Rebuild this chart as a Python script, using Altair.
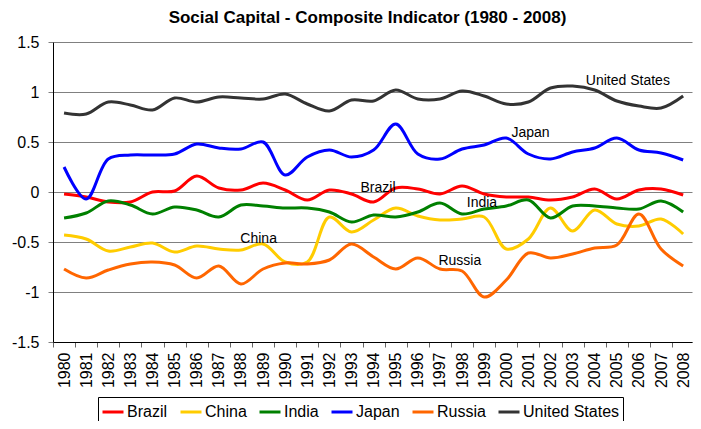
import altair as alt
import pandas as pd

years = list(range(1980, 2009))

countries = ["Brazil", "China", "India", "Japan", "Russia", "United States"]
colors = ["#FF0000", "#FFCC00", "#008000", "#0000FF", "#FF6600", "#333333"]

brazil = [-0.02, -0.05, -0.10, -0.10, 0.00, 0.01, 0.16, 0.04, 0.02, 0.09,
          0.02, -0.08, 0.02, -0.02, -0.10, 0.04, 0.03, -0.02, 0.06, -0.02,
          -0.05, -0.05, -0.08, -0.05, 0.03, -0.07, 0.02, 0.03, -0.03]
china = [-0.43, -0.47, -0.59, -0.55, -0.51, -0.60, -0.54, -0.57, -0.58, -0.52,
         -0.70, -0.70, -0.25, -0.40, -0.28, -0.16, -0.24, -0.28, -0.27, -0.25,
         -0.57, -0.47, -0.16, -0.39, -0.18, -0.32, -0.34, -0.27, -0.42]
india = [-0.26, -0.21, -0.09, -0.13, -0.22, -0.15, -0.18, -0.25, -0.13, -0.14,
         -0.16, -0.16, -0.20, -0.30, -0.23, -0.25, -0.20, -0.11, -0.22, -0.17,
         -0.14, -0.08, -0.26, -0.14, -0.14, -0.16, -0.17, -0.09, -0.20]
japan = [0.25, -0.07, 0.33, 0.37, 0.37, 0.38, 0.48, 0.44, 0.43, 0.50,
         0.17, 0.35, 0.42, 0.35, 0.42, 0.68, 0.38, 0.33, 0.43, 0.47,
         0.54, 0.38, 0.33, 0.40, 0.44, 0.54, 0.42, 0.39, 0.32]
russia = [-0.77, -0.86, -0.78, -0.72, -0.70, -0.73, -0.86, -0.74, -0.92, -0.77,
          -0.71, -0.72, -0.68, -0.52, -0.65, -0.77, -0.66, -0.77, -0.79, -1.05,
          -0.88, -0.61, -0.66, -0.62, -0.56, -0.53, -0.22, -0.57, -0.74]
usa = [0.79, 0.78, 0.90, 0.87, 0.82, 0.94, 0.90, 0.95, 0.94, 0.93,
       0.98, 0.88, 0.81, 0.92, 0.91, 1.02, 0.93, 0.93, 1.01, 0.96,
       0.88, 0.90, 1.04, 1.06, 1.02, 0.91, 0.86, 0.84, 0.96]

series = [brazil, china, india, japan, russia, usa]

# in-chart data labels (anchor year, value)
label_text = ["United States", "Japan", "Brazil", "India", "China", "Russia"]
label_year = [2005.5, 2001.1, 1994.2, 1998.9, 1988.8, 1997.9]
label_value = [1.107, 0.587, 0.037, -0.113, -0.473, -0.693]

y_ticks = [-1.5, -1.0, -0.5, 0.0, 0.5, 1.0, 1.5]

rows = []
for name, vals in zip(countries, series):
    for yr, v in zip(years, vals):
        rows.append({"Country": name, "Year": yr, "Value": v})
df = pd.DataFrame(rows)

labels_df = pd.DataFrame({"text": label_text, "Year": label_year, "Value": label_value})

W = 639
x_lo, x_hi = 1979.5, 2008.4
half = W / (x_hi - x_lo) / 2.0

x_scale = alt.Scale(domain=[x_lo, x_hi], nice=False, zero=False)
y_scale = alt.Scale(domain=[-1.5, 1.5], nice=False, zero=False)

x_axis = alt.Axis(values=years, format="d", labelAngle=270, title=None,
                  grid=False, tickOffset=-half, labelOffset=half,
                  tickSize=5, tickColor="#666666", domainColor="#000000",
                  labelFont="Liberation Sans", labelFontSize=16,
                  labelColor="#000000", labelPadding=5, labelOverlap=False,
                  labelBound=False, labelFlush=False)
y_axis = alt.Axis(values=y_ticks, title=None, grid=True, gridColor="#808080",
                  gridWidth=1, tickSize=5, tickColor="#808080",
                  domainColor="#000000",
                  labelExpr="datum.value + ''",
                  labelFont="Liberation Sans", labelFontSize=16,
                  labelColor="#000000", labelPadding=9, labelOverlap=False)

lines = alt.Chart(df).mark_line(
    interpolate="catmull-rom", strokeWidth=3
).encode(
    x=alt.X("Year:Q", scale=x_scale, axis=x_axis),
    y=alt.Y("Value:Q", scale=y_scale, axis=y_axis),
    color=alt.Color("Country:N",
                    scale=alt.Scale(domain=countries, range=colors),
                    legend=alt.Legend(title=None, orient="none", direction="horizontal",
                                      columns=6, legendX=45, legendY=355,
                                      symbolType="stroke", symbolSize=441,
                                      symbolStrokeWidth=3, labelFont="Liberation Sans",
                                      labelFontSize=16, labelColor="#000000",
                                      labelOffset=2, columnPadding=6,
                                      strokeColor="#000000", fillColor="#FFFFFF",
                                      padding=3)),
    order=alt.Order("Year:Q"),
)

texts = alt.Chart(labels_df).mark_text(
    font="Liberation Sans", fontSize=14, color="#000000", align="center", baseline="middle"
).encode(
    x=alt.X("Year:Q", scale=x_scale, axis=x_axis),
    y=alt.Y("Value:Q", scale=y_scale, axis=y_axis),
    text="text:N",
)

chart = alt.layer(lines, texts).properties(
    width=W,
    height=300,
    padding={"left": 45, "top": 34, "right": 1, "bottom": 79},
    autosize=alt.AutoSizeParams(type="none"),
    title=alt.TitleParams(
        "Social Capital - Composite Indicator (1980 - 2008)",
        font="Liberation Sans", fontSize=17, fontWeight="bold", color="#000000",
        anchor="middle", offset=7, dx=-5,
    ),
).configure_view(stroke=None).configure_axis(labelOverlap=False)

chart.save("out.html", embed_options={"renderer": "svg", "actions": False})
